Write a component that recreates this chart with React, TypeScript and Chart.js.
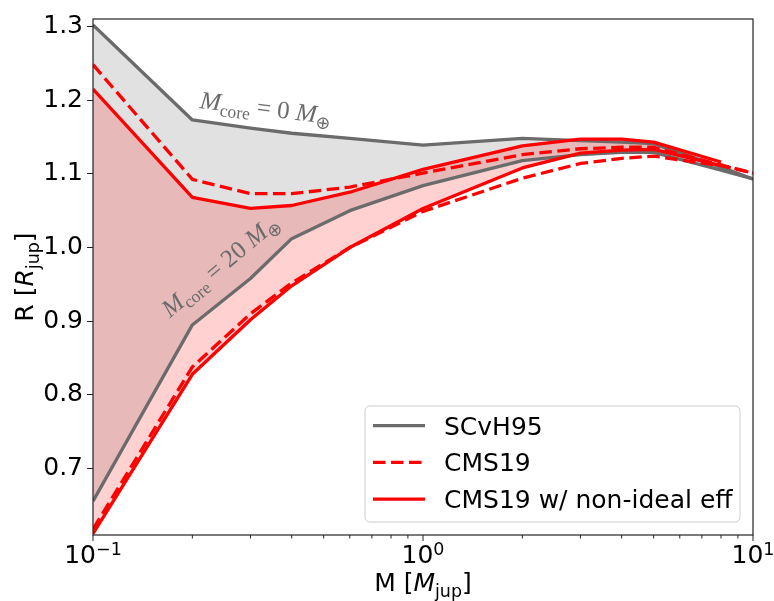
import React, { useEffect, useRef } from 'react';
import { Chart, registerables } from 'chart.js';
Chart.register(...registerables);

// ---- data ----
const masses = [0.1, 0.2, 0.3, 0.4, 0.6, 1, 2, 3, 4, 5, 8, 10];
const scvhCore0 = [1.302, 1.173, 1.162, 1.155, 1.148, 1.139, 1.148, 1.145, 1.143, 1.141, 1.109, 1.093];
const scvhCore20 = [0.656, 0.895, 0.958, 1.012, 1.05, 1.084, 1.118, 1.126, 1.129, 1.129, 1.105, 1.093];
const cmsCore0 = [1.248, 1.0925, 1.073, 1.073, 1.082, 1.101, 1.126, 1.134, 1.136, 1.136, 1.112, 1.101];
const cmsCore20 = [0.618, 0.838, 0.91, 0.952, 1.0, 1.049, 1.094, 1.114, 1.121, 1.124, 1.111, 1.101];
const cmsNiCore0 = [1.215, 1.068, 1.053, 1.057, 1.075, 1.106, 1.138, 1.147, 1.147, 1.143, 1.116, null];
const cmsNiCore20 = [0.612, 0.828, 0.902, 0.948, 1.0, 1.053, 1.108, 1.128, 1.132, 1.133, 1.111, null];

const yTicks = [0.7, 0.8, 0.9, 1.0, 1.1, 1.2, 1.3];
const xMajorTicks = [0.1, 1, 10];
const xMinorTicks = [0.2, 0.3, 0.4, 0.5, 0.6, 0.7, 0.8, 0.9, 2, 3, 4, 5, 6, 7, 8, 9];
const legendLabels = ['SCvH95', 'CMS19', 'CMS19 w/ non-ideal eff'];

const GRAY = '#6b6b6b';
const RED = '#ff0000';
const DASH = [12.5, 5.5];
const SANS = '"DejaVu Sans"';
const SERIF = '"Liberation Serif"';

function pts(ys: (number | null)[]) {
  return masses
    .map((m, i) => ({ x: m, y: ys[i] }))
    .filter((p) => p.y !== null) as { x: number; y: number }[];
}

type Seg = { t: string; it?: boolean; sub?: boolean; sup?: boolean; family?: string };

function drawRich(
  ctx: CanvasRenderingContext2D,
  segs: Seg[],
  x: number,
  y: number,
  size: number,
  family: string,
  align: 'left' | 'center',
  color: string
) {
  const fontFor = (s: Seg) =>
    `${s.it ? 'italic ' : ''}${s.sub || s.sup ? size * 0.7 : size}px ${s.family || family}`;
  const widths = segs.map((s) => {
    ctx.font = fontFor(s);
    return ctx.measureText(s.t).width;
  });
  const total = widths.reduce((a, b) => a + b, 0);
  let cx = align === 'center' ? x - total / 2 : x;
  ctx.fillStyle = color;
  ctx.textBaseline = 'alphabetic';
  ctx.textAlign = 'left';
  segs.forEach((s, i) => {
    ctx.font = fontFor(s);
    const dy = s.sub ? size * 0.22 : s.sup ? -size * 0.32 : 0;
    ctx.fillText(s.t, cx, y + dy);
    cx += widths[i];
  });
}

const decorPlugin = {
  id: 'decor',
  afterDraw(chart: any) {
    const { ctx, chartArea, scales } = chart;
    const { left, right, top, bottom } = chartArea;
    const xs = scales.x;
    const ys = scales.y;
    ctx.save();

    // frame
    ctx.strokeStyle = '#222';
    ctx.lineWidth = 1.2;
    ctx.strokeRect(left, top, right - left, bottom - top);

    // x ticks
    ctx.lineWidth = 1;
    ctx.beginPath();
    xMajorTicks.forEach((v) => {
      const px = xs.getPixelForValue(v);
      ctx.moveTo(px, bottom);
      ctx.lineTo(px, bottom + 6);
    });
    xMinorTicks.forEach((v) => {
      const px = xs.getPixelForValue(v);
      ctx.moveTo(px, bottom);
      ctx.lineTo(px, bottom + 3.5);
    });
    ctx.stroke();

    // x tick labels 10^e
    xMajorTicks.forEach((v) => {
      const e = Math.round(Math.log10(v));
      const px = xs.getPixelForValue(v);
      drawRich(
        ctx,
        [{ t: '10' }, { t: e < 0 ? '\u2212' + Math.abs(e) : String(e), sup: true }],
        px,
        bottom + 28,
        25,
        SANS,
        'center',
        '#000'
      );
    });

    // axis titles
    drawRich(
      ctx,
      [{ t: 'M [' }, { t: 'M', it: true }, { t: 'jup', sub: true }, { t: ']' }],
      (left + right) / 2,
      591,
      25,
      SANS,
      'center',
      '#000'
    );
    ctx.save();
    ctx.translate(33, (top + bottom) / 2);
    ctx.rotate(-Math.PI / 2);
    drawRich(
      ctx,
      [{ t: 'R [' }, { t: 'R', it: true }, { t: 'jup', sub: true }, { t: ']' }],
      0,
      0,
      25,
      SANS,
      'center',
      '#000'
    );
    ctx.restore();

    // annotations
    ctx.save();
    ctx.translate(xs.getPixelForValue(0.2) + 7, ys.getPixelForValue(1.2) + 8);
    ctx.rotate((7 * Math.PI) / 180);
    drawRich(
      ctx,
      [
        { t: 'M', it: true },
        { t: 'core', sub: true },
        { t: ' = 0 ' },
        { t: 'M', it: true },
        { t: '\u2295', sub: true, family: SANS },
      ],
      0,
      0,
      25,
      SERIF,
      'left',
      GRAY
    );
    ctx.restore();

    ctx.save();
    ctx.translate(xs.getPixelForValue(0.171), ys.getPixelForValue(0.9) - 3);
    ctx.rotate((-40 * Math.PI) / 180);
    drawRich(
      ctx,
      [
        { t: 'M', it: true },
        { t: 'core', sub: true },
        { t: ' = 20 ' },
        { t: 'M', it: true },
        { t: '\u2295', sub: true, family: SANS },
      ],
      0,
      0,
      25,
      SERIF,
      'left',
      GRAY
    );
    ctx.restore();

    // legend
    const lx = 365,
      ly = 406,
      lw = 375,
      lh = 116,
      r = 5;
    ctx.beginPath();
    ctx.moveTo(lx + r, ly);
    ctx.arcTo(lx + lw, ly, lx + lw, ly + lh, r);
    ctx.arcTo(lx + lw, ly + lh, lx, ly + lh, r);
    ctx.arcTo(lx, ly + lh, lx, ly, r);
    ctx.arcTo(lx, ly, lx + lw, ly, r);
    ctx.closePath();
    ctx.fillStyle = 'rgba(255,255,255,0.8)';
    ctx.fill();
    ctx.strokeStyle = '#cccccc';
    ctx.lineWidth = 1;
    ctx.stroke();

    const rows = [
      { color: GRAY, dash: [] as number[] },
      { color: RED, dash: DASH },
      { color: RED, dash: [] as number[] },
    ];
    rows.forEach((row, i) => {
      const yy = 425.7 + i * 36.7;
      ctx.beginPath();
      ctx.setLineDash(row.dash);
      ctx.strokeStyle = row.color;
      ctx.lineWidth = 3.3;
      ctx.moveTo(373, yy);
      ctx.lineTo(425, yy);
      ctx.stroke();
      ctx.setLineDash([]);
      ctx.font = `25px ${SANS}`;
      ctx.fillStyle = '#000';
      ctx.textAlign = 'left';
      ctx.textBaseline = 'alphabetic';
      ctx.fillText(legendLabels[i], 444, yy + 9);
    });

    ctx.restore();
  },
};

export default function App() {
  const ref = useRef<HTMLCanvasElement | null>(null);
  useEffect(() => {
    if (!ref.current) return;
    const line = (data: any, color: string, dash: number[], order: number, extra: any = {}) => ({
      data,
      borderColor: color,
      borderWidth: 3.3,
      borderDash: dash,
      borderJoinStyle: 'round',
      pointRadius: 0,
      tension: 0,
      fill: false,
      order,
      ...extra,
    });
    const chart = new Chart(ref.current, {
      type: 'line',
      data: {
        datasets: [
          line(pts(scvhCore0), GRAY, [], 6, {
            fill: { target: 1 },
            backgroundColor: 'rgba(105,105,105,0.2)',
          }),
          line(pts(scvhCore20), GRAY, [], 5),
          line(pts(cmsCore0), RED, DASH, 4),
          line(pts(cmsCore20), RED, DASH, 3),
          line(pts(cmsNiCore0), RED, [], 2, {
            fill: { target: 5 },
            backgroundColor: 'rgba(255,0,0,0.18)',
          }),
          line(pts(cmsNiCore20), RED, [], 1),
        ] as any,
      },
      options: {
        animation: false,
        responsive: false,
        maintainAspectRatio: false,
        layout: { padding: { left: 0, right: 21, top: 10, bottom: 0 } },
        plugins: {
          legend: { display: false },
          tooltip: { enabled: false },
          filler: { drawTime: 'beforeDatasetsDraw' },
        } as any,
        scales: {
          x: {
            type: 'logarithmic',
            min: 0.1,
            max: 10,
            ticks: { display: false },
            grid: { display: false },
            border: { display: false },
            afterFit: (s: any) => {
              s.height = 66;
            },
          },
          y: {
            type: 'linear',
            min: 0.61,
            max: 1.31,
            afterBuildTicks: (s: any) => {
              s.ticks = yTicks.map((v) => ({ value: v }));
            },
            ticks: {
              font: { family: 'DejaVu Sans', size: 25 },
              color: '#000',
              padding: 4,
              callback: (v: any) => Number(v).toFixed(1),
            },
            grid: {
              drawOnChartArea: false,
              drawTicks: true,
              tickLength: 6,
              color: '#222',
              lineWidth: 1,
            },
            border: { display: false },
            afterFit: (s: any) => {
              s.width = 93;
            },
          },
        } as any,
      },
      plugins: [decorPlugin],
    });
    return () => chart.destroy();
  }, []);
  return (
    <div style={{ position: 'fixed', left: 0, top: 0, width: 774, height: 601, background: '#fff' }}>
      <canvas ref={ref} width={774} height={601} />
    </div>
  );
}
